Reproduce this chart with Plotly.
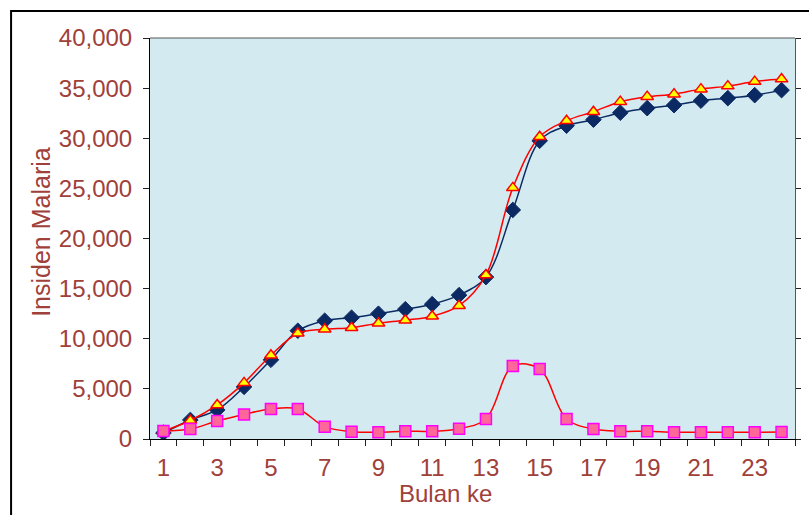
import plotly.graph_objects as go

# Monthly malaria incidence, three series
bulan = list(range(1, 25))
seri_kumulatif = [600, 1900, 2900, 5200, 7900, 10800, 11800, 12100, 12500, 12950, 13450, 14350,
                  16150, 22850, 29750, 31250, 31850, 32550, 33000, 33300, 33750, 34000, 34300, 34800]
seri_prediksi = [800, 1850, 3400, 5600, 8350, 10550, 10950, 11100, 11550, 11850, 12250, 13300,
                 16350, 25050, 30150, 31750, 32650, 33650, 34150, 34400, 34900, 35200, 35650, 35900]
seri_bulanan = [800, 1000, 1800, 2450, 3000, 3000, 1230, 730, 670, 770, 770, 1030,
                2000, 7280, 6980, 2000, 1000, 770, 770, 670, 670, 670, 670, 700]
label_x = [1, 3, 5, 7, 9, 11, 13, 15, 17, 19, 21, 23]
label_y = [0, 5000, 10000, 15000, 20000, 25000, 30000, 35000, 40000]

TEXT = "#A0403A"
FONT = "Liberation Sans, Arial, sans-serif"
W, H = 809, 515
L, R, T, B = 150, 9, 38, 76

fig = go.Figure()

fig.add_trace(go.Scatter(
    x=bulan, y=seri_kumulatif, mode="lines+markers", name="Kumulatif",
    line=dict(color="#0B2A63", width=1.5, shape="spline", smoothing=1),
    marker=dict(symbol="diamond", size=12, color="#0B2A63",
                line=dict(color="#0B2A63", width=1)),
))
fig.add_trace(go.Scatter(
    x=bulan, y=seri_prediksi, mode="lines+markers", name="Prediksi",
    line=dict(color="#FF0000", width=1.5, shape="spline", smoothing=1),
    marker=dict(symbol="triangle-up", size=11, color="#FFFF00",
                line=dict(color="#FF0000", width=1.5)),
))
fig.add_trace(go.Scatter(
    x=bulan, y=seri_bulanan, mode="lines+markers", name="Bulanan",
    line=dict(color="#FF0000", width=1.5, shape="spline", smoothing=1),
    marker=dict(symbol="square", size=11, color="#FF6699",
                line=dict(color="#FF00FF", width=1.5)),
))
# helper trace so the secondary axes are drawn
fig.add_trace(go.Scatter(
    x=[1], y=[0], xaxis="x2", yaxis="y2", mode="markers",
    marker=dict(opacity=0), hoverinfo="skip", showlegend=False,
))

fig.update_layout(
    width=W, height=H,
    margin=dict(l=L, r=R, t=T, b=B),
    paper_bgcolor="white",
    plot_bgcolor="#D3EAF0",
    showlegend=False,
    font=dict(family=FONT, color=TEXT, size=24),
    xaxis=dict(
        range=[0.5, 24.5], tick0=0.5, dtick=1, ticks="outside", ticklen=6,
        tickcolor="#222222", showticklabels=False, showgrid=False, zeroline=False,
        showline=True, linecolor="#000000", linewidth=1,
    ),
    xaxis2=dict(
        range=[0.5, 24.5], overlaying="x", anchor="y2", side="bottom",
        tickvals=label_x, ticktext=[str(v) for v in label_x], ticks="",
        showgrid=False, zeroline=False, showline=False,
        tickfont=dict(family=FONT, color=TEXT, size=24), ticklabelstandoff=12,
    ),
    yaxis=dict(
        range=[0, 40000], tickvals=label_y,
        ticktext=[f"{v:,}" for v in label_y], ticks="outside", ticklen=6,
        tickcolor="#222222", showgrid=False, zeroline=False,
        showline=True, linecolor="#000000", linewidth=1,
        tickfont=dict(family=FONT, color=TEXT, size=24), ticklabelstandoff=6,
    ),
    yaxis2=dict(
        range=[0, 40000], overlaying="y", side="right", anchor="x2",
        tickvals=label_y, ticks="outside", ticklen=5, tickcolor="#222222",
        showticklabels=False, showgrid=False, zeroline=False,
        showline=True, linecolor="#555555", linewidth=1,
    ),
)

def px_x(p):
    return (p - L) / (W - L - R)

def px_y(p):
    return (H - B - p) / (H - T - B)

# plot-area top border and outer chart frame
fig.add_shape(type="line", xref="paper", yref="paper", x0=0, x1=1, y0=1, y1=1,
              line=dict(color="#555555", width=1))
fig.add_shape(type="rect", xref="paper", yref="paper",
              x0=px_x(10), x1=px_x(830), y0=px_y(11), y1=px_y(540),
              line=dict(color="#000000", width=2), fillcolor="rgba(0,0,0,0)")

fig.add_annotation(text="Bulan ke", xref="paper", yref="paper",
                   x=px_x(448), y=px_y(493), xanchor="center", yanchor="middle",
                   showarrow=False, font=dict(family=FONT, color=TEXT, size=24))
fig.add_annotation(text="Insiden Malaria", xref="paper", yref="paper",
                   x=px_x(40), y=px_y(232), xanchor="center", yanchor="middle",
                   showarrow=False, textangle=-90,
                   font=dict(family=FONT, color=TEXT, size=25))

fig.write_html("out.html")
